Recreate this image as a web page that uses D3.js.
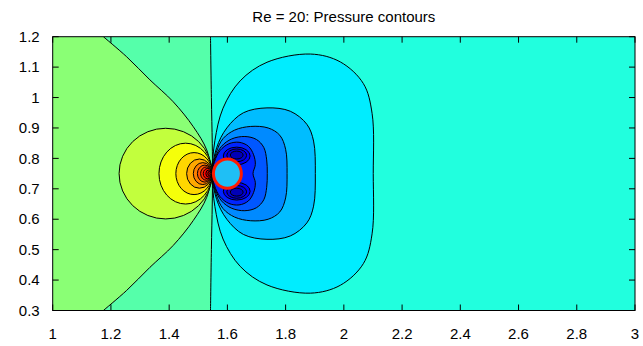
<!DOCTYPE html>
<html>
<head>
<meta charset="utf-8">
<script src="https://cdn.jsdelivr.net/npm/d3@7"></script>
<style>
body { margin: 0; background: #ffffff; }
</style>
</head>
<body>
<div id="chart"></div>
<script>
// tick labels
const xTicks = [1, 1.2, 1.4, 1.6, 1.8, 2, 2.2, 2.4, 2.6, 2.8, 3];
const yTicks = [0.3, 0.4, 0.5, 0.6, 0.7, 0.8, 0.9, 1, 1.1, 1.2];

// cylinder [cx, cy, r] and the point where the contours meet
const cylinder = [1.6, 0.75, 0.048];
const meetPoint = [1.548, 0.75];

// background levels: right of divider, between divider and separatrix, far left
const bgLevels = [0.4075, 0.458, 0.51];

// near vertical contour through the meet point
const divider = [[1.542, 1.2], [1.545, 1.0], [1.548, 0.85], [1.549, 0.75], [1.548, 0.65], [1.545, 0.5], [1.542, 0.3]];
// left contour, upper and lower branch
const sepTop = [[1.174, 1.2], [1.254, 1.134], [1.334, 1.058], [1.414, 0.986], [1.483, 0.904], [1.529, 0.828], [1.548, 0.75]];
const sepBottom = [[1.548, 0.75], [1.529, 0.672], [1.483, 0.596], [1.414, 0.514], [1.334, 0.442], [1.254, 0.366], [1.174, 0.3]];

// high pressure loops in front of the cylinder: leftmost x, half height, level
const leftLoopX = [1.228, 1.365, 1.423, 1.460, 1.483, 1.497, 1.508, 1.517, 1.526, 1.533, 1.540];
const leftLoopH = [0.149, 0.1, 0.069, 0.048, 0.036, 0.028, 0.022, 0.017, 0.012, 0.008, 0.0045];
const leftLevels = [0.565, 0.615, 0.665, 0.71, 0.75, 0.79, 0.83, 0.87, 0.91, 0.95, 0.99];

// low pressure contours behind the cylinder
const rightContours = [
  [[1.548,0.75],[1.557,0.858],[1.585,0.965],[1.644,1.055],[1.736,1.116],[1.885,1.143],[1.988,1.117],[2.067,1.046],[2.097,0.948],[2.101,0.75],[2.097,0.552],[2.067,0.454],[1.988,0.383],[1.885,0.357],[1.736,0.384],[1.644,0.445],[1.585,0.535],[1.557,0.642]],
  [[1.548,0.75],[1.563,0.835],[1.598,0.9],[1.655,0.95],[1.736,0.966],[1.816,0.955],[1.873,0.912],[1.896,0.857],[1.902,0.75],[1.896,0.643],[1.873,0.588],[1.816,0.545],[1.736,0.534],[1.655,0.55],[1.598,0.6],[1.563,0.665]],
  [[1.548,0.75],[1.562,0.82],[1.585,0.865],[1.625,0.893],[1.68,0.905],[1.74,0.9],[1.78,0.876],[1.8,0.83],[1.805,0.75],[1.8,0.67],[1.78,0.624],[1.74,0.6],[1.68,0.595],[1.625,0.607],[1.585,0.635],[1.562,0.68]],
  [[1.548,0.75],[1.558,0.8],[1.58,0.84],[1.615,0.864],[1.66,0.872],[1.7,0.862],[1.725,0.836],[1.735,0.795],[1.737,0.75],[1.735,0.705],[1.725,0.664],[1.7,0.638],[1.66,0.628],[1.615,0.636],[1.58,0.66],[1.558,0.7]],
  [[1.548,0.75],[1.556,0.79],[1.575,0.826],[1.605,0.848],[1.64,0.853],[1.672,0.84],[1.69,0.812],[1.696,0.78],[1.688,0.75],[1.696,0.72],[1.69,0.688],[1.672,0.66],[1.64,0.647],[1.605,0.652],[1.575,0.674],[1.556,0.71]]
];
const rightLevels = [0.357, 0.31, 0.26, 0.21, 0.16];

// suction lobes above and below the cylinder: cx, offset from centre, rx, ry
const lobeX = [1.632, 1.632, 1.632];
const lobeDY = [0.058, 0.06, 0.061];
const lobeRX = [0.046, 0.034, 0.022];
const lobeRY = [0.029, 0.021, 0.013];
const lobeLevels = [0.12, 0.085, 0.055];

const W = 643, H = 346;

const svg = d3.select('#chart')
    .append('svg')
    .attr('width', W)
    .attr('height', H)
    .style('display', 'block');

const x = d3.scaleLinear().domain([1, 3]).range([52.7, 635]);
const y = d3.scaleLinear().domain([0.3, 1.2]).range([310.5, 36.7]);

// jet colour map
const jet = d3.scaleLinear()
    .domain([0, 0.125, 0.375, 0.625, 0.875, 1])
    .range(["#00007f", "#0000ff", "#00ffff", "#ffff00", "#ff0000", "#7f0000"]);

const openLine = d3.line().x(d => x(d[0])).y(d => y(d[1])).curve(d3.curveCatmullRom);
const closedLine = d3.line().x(d => x(d[0])).y(d => y(d[1])).curve(d3.curveCatmullRomClosed);

svg.append('defs').append('clipPath')
    .attr('id', 'plotClip')
    .append('rect')
    .attr('x', x(1))
    .attr('y', y(1.2))
    .attr('width', x(3) - x(1))
    .attr('height', y(0.3) - y(1.2));

const plot = svg.append('g').attr('clip-path', 'url(#plotClip)');

// background
plot.append('rect')
    .attr('x', x(1))
    .attr('y', y(1.2))
    .attr('width', x(3) - x(1))
    .attr('height', y(0.3) - y(1.2))
    .style('fill', jet(bgLevels[0]));

// region left of the divider
plot.append('path')
    .attr('d', openLine(divider) + `L${x(1)},${y(0.3)}L${x(1)},${y(1.2)}Z`)
    .style('fill', jet(bgLevels[1]));

// region left of the separatrix
plot.append('path')
    .attr('d', openLine(sepTop) + openLine(sepBottom).replace(/^M/, 'L') + `L${x(1)},${y(0.3)}L${x(1)},${y(1.2)}Z`)
    .style('fill', jet(bgLevels[2]));

const strokeStyle = sel => sel.style('stroke', '#000').style('stroke-width', 1);

plot.append('path').attr('d', openLine(divider)).style('fill', 'none').call(strokeStyle);
plot.append('path').attr('d', openLine(sepTop)).style('fill', 'none').call(strokeStyle);
plot.append('path').attr('d', openLine(sepBottom)).style('fill', 'none').call(strokeStyle);

// left loops
leftLoopX.forEach((xl, i) => {
    plot.append('ellipse')
        .attr('cx', (x(xl) + x(meetPoint[0])) / 2)
        .attr('cy', y(meetPoint[1]))
        .attr('rx', (x(meetPoint[0]) - x(xl)) / 2)
        .attr('ry', y(meetPoint[1] - leftLoopH[i]) - y(meetPoint[1]))
        .style('fill', jet(leftLevels[i]))
        .call(strokeStyle);
});

// right contours
rightContours.forEach((pts, i) => {
    plot.append('path')
        .attr('d', closedLine(pts))
        .style('fill', jet(rightLevels[i]))
        .call(strokeStyle);
});

// lobes
[1, -1].forEach(side => {
    lobeX.forEach((cx, i) => {
        plot.append('ellipse')
            .attr('cx', x(cx))
            .attr('cy', y(cylinder[1] + side * lobeDY[i]))
            .attr('rx', x(cx + lobeRX[i]) - x(cx))
            .attr('ry', y(0) - y(lobeRY[i]))
            .style('fill', jet(lobeLevels[i]))
            .call(strokeStyle);
    });
});

// cylinder
plot.append('ellipse')
    .attr('cx', x(cylinder[0]))
    .attr('cy', y(cylinder[1]))
    .attr('rx', x(cylinder[0] + cylinder[2]) - x(cylinder[0]))
    .attr('ry', y(0) - y(cylinder[2]))
    .style('fill', '#1fbff5')
    .style('stroke', '#ff1a00')
    .style('stroke-width', 3);

// border
svg.append('rect')
    .attr('x', x(1))
    .attr('y', y(1.2))
    .attr('width', x(3) - x(1))
    .attr('height', y(0.3) - y(1.2))
    .style('fill', 'none')
    .style('stroke', '#000')
    .style('stroke-width', 1);

// ticks, pointing inward on all four sides
const tickLen = 6;
const ticks = svg.append('g').style('stroke', '#000').style('stroke-width', 1);
xTicks.forEach(v => {
    ticks.append('line').attr('x1', x(v)).attr('x2', x(v)).attr('y1', y(0.3)).attr('y2', y(0.3) - tickLen);
    ticks.append('line').attr('x1', x(v)).attr('x2', x(v)).attr('y1', y(1.2)).attr('y2', y(1.2) + tickLen);
});
yTicks.forEach(v => {
    ticks.append('line').attr('x1', x(1)).attr('x2', x(1) + tickLen).attr('y1', y(v)).attr('y2', y(v));
    ticks.append('line').attr('x1', x(3)).attr('x2', x(3) - tickLen).attr('y1', y(v)).attr('y2', y(v));
});

const fmt = d3.format('~g');
const font = '"Liberation Sans", Arial, Helvetica, sans-serif';

svg.append('g').selectAll('text')
    .data(xTicks)
    .join('text')
    .text(d => fmt(d))
    .attr('x', d => x(d))
    .attr('y', y(0.3) + 28)
    .attr('text-anchor', 'middle')
    .style('font-size', '15px')
    .style('font-family', font);

svg.append('g').selectAll('text')
    .data(yTicks)
    .join('text')
    .text(d => fmt(d))
    .attr('x', x(1) - 13)
    .attr('y', d => y(d))
    .attr('dy', '0.35em')
    .attr('text-anchor', 'end')
    .style('font-size', '15px')
    .style('font-family', font);

// title
svg.append('text')
    .text('Re = 20: Pressure contours')
    .attr('x', (x(1) + x(3)) / 2)
    .attr('y', 22)
    .attr('text-anchor', 'middle')
    .style('font-size', '15px')
    .style('font-family', font);
</script>
</body>
</html>
